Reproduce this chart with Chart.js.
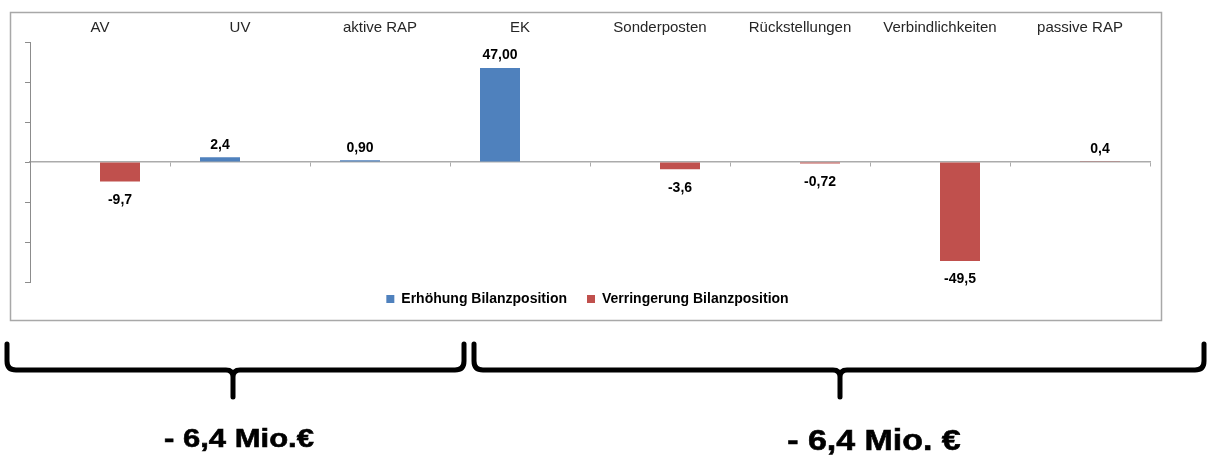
<!DOCTYPE html>
<html lang="de">
<head>
<meta charset="utf-8">
<title>Veränderung der Bilanzpositionen</title>
<script src="https://cdn.jsdelivr.net/npm/chart.js@4.4.1/dist/chart.umd.min.js"></script>
<style>
  html, body { margin: 0; padding: 0; background: #fff; }
  #wrap { position: relative; width: 1208px; height: 455px; overflow: hidden; }
  #chart { position: absolute; left: 0; top: 0; }
  #braces { position: absolute; left: 0; top: 0; }
  .sum {
    position: absolute;
    font-family: "Liberation Sans", Arial, sans-serif;
    font-weight: bold;
    color: #000;
    line-height: 1;
    white-space: nowrap;
    -webkit-text-stroke: 0.6px #000;
  }
  #sumLeft { left: 238.5px; top: 438px; font-size: 26.5px; transform: translate(-50%, -50%) scaleX(1.17); }
  #sumRight { left: 874px; top: 440px; font-size: 29px; transform: translate(-50%, -50%) scaleX(1.17); }
</style>
</head>
<body>
<div id="wrap">
  <canvas id="chart" width="1208" height="455"></canvas>
  <svg id="braces" width="1208" height="455" viewBox="0 0 1208 455">
    <g fill="none" stroke="#000" stroke-width="5" stroke-linecap="round" stroke-linejoin="round">
      <path d="M 7 344 L 7 361 Q 7 370 16 370 L 226 370 Q 233 370 233 377 L 233 397 M 233 377 Q 233 370 240 370 L 455 370 Q 464 370 464 361 L 464 344"/>
      <path d="M 474 344 L 474 361 Q 474 370 483 370 L 833 370 Q 840 370 840 377 L 840 397 M 840 377 Q 840 370 847 370 L 1195 370 Q 1204 370 1204 361 L 1204 344"/>
    </g>
  </svg>
  <div class="sum" id="sumLeft">- 6,4 Mio.€</div>
  <div class="sum" id="sumRight">- 6,4 Mio. €</div>
</div>
<script>
// Balance sheet items (Mio. €)
const categories = ['AV', 'UV', 'aktive RAP', 'EK', 'Sonderposten', 'Rückstellungen', 'Verbindlichkeiten', 'passive RAP'];
const increaseValues = [null, 2.4, 0.9, 47.0, null, null, null, null];
const decreaseValues = [-9.7, null, null, null, -3.6, -0.72, -49.5, 0.4];
const valueDecimals = [1, 1, 2, 2, 1, 2, 1, 1];
const seriesNames = ['Erhöhung Bilanzposition', 'Verringerung Bilanzposition'];
const yTicks = { min: -60, max: 60, step: 20 };

const FONT = '"Liberation Sans", Arial, sans-serif';

function formatValue(v, d) {
  return v.toFixed(d).replace('.', ',');
}

// Grey frame around the chart panel
const framePlugin = {
  id: 'frame',
  beforeDraw(chart) {
    const ctx = chart.ctx;
    ctx.save();
    ctx.strokeStyle = '#a8a8a8';
    ctx.lineWidth = 1.5;
    ctx.strokeRect(10.5, 12.5, 1151, 308);
    ctx.restore();
  }
};

// Value labels above positive and below negative bars
const valueLabels = {
  id: 'valueLabels',
  afterDatasetsDraw(chart) {
    const ctx = chart.ctx;
    ctx.save();
    ctx.font = 'bold 14px ' + FONT;
    ctx.fillStyle = '#000';
    ctx.textAlign = 'center';
    ctx.textBaseline = 'middle';
    chart.data.datasets.forEach((ds, di) => {
      const meta = chart.getDatasetMeta(di);
      meta.data.forEach((bar, i) => {
        const v = ds.data[i];
        if (v === null || v === undefined) return;
        const y = v >= 0 ? bar.y - 12.5 : bar.y + 18.5;
        ctx.fillText(formatValue(v, valueDecimals[i]), bar.x, y);
      });
    });
    ctx.restore();
  }
};

// Pull the legend row up closer to the plot
const legendLift = {
  id: 'legendLift',
  afterLayout(chart) {
    if (chart.legend) {
      chart.legend.top -= 10;
      chart.legend.bottom -= 10;
    }
  }
};

new Chart(document.getElementById('chart'), {
  type: 'bar',
  data: {
    labels: categories,
    datasets: [
      { label: seriesNames[0], data: increaseValues, backgroundColor: '#4F81BD', borderWidth: 0 },
      { label: seriesNames[1], data: decreaseValues, backgroundColor: '#C0504D', borderWidth: 0 }
    ]
  },
  options: {
    responsive: false,
    devicePixelRatio: 1,
    animation: false,
    categoryPercentage: 80 / 140,
    barPercentage: 1,
    layout: { padding: { left: 25, right: 58, top: 0, bottom: 129 } },
    plugins: {
      tooltip: { enabled: false },
      legend: {
        position: 'bottom',
        labels: {
          boxWidth: 8,
          boxHeight: 8,
          padding: 20,
          color: '#000',
          font: { family: FONT, size: 14, weight: 'bold' }
        }
      }
    },
    scales: {
      x: {
        type: 'category',
        position: 'top',
        offset: true,
        grid: { display: false, drawTicks: false },
        border: { display: false },
        ticks: { color: '#262626', padding: 5, font: { family: FONT, size: 15 }, maxRotation: 0 },
        afterFit(scale) { scale.height = 42; }
      },
      x2: {
        type: 'category',
        position: { y: 0 },
        offset: true,
        grid: { offset: true, drawOnChartArea: false, drawTicks: true, tickLength: 4, color: '#ababab' },
        border: { display: true, color: '#ababab', width: 1.5 },
        ticks: { display: false }
      },
      y: {
        position: 'left',
        min: yTicks.min,
        max: yTicks.max,
        ticks: { display: false, stepSize: yTicks.step },
        grid: { drawOnChartArea: false, drawTicks: true, tickLength: 5, color: '#8c8c8c' },
        border: { display: true, color: '#8c8c8c' },
        afterFit(scale) { scale.width = 5; }
      }
    }
  },
  plugins: [framePlugin, valueLabels, legendLift]
});
</script>
</body>
</html>
